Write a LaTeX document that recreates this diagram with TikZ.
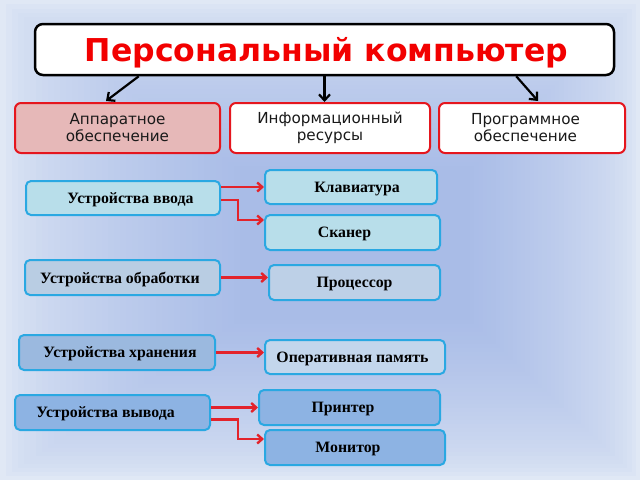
\documentclass[tikz,border=0pt]{standalone}
\usepackage{fontspec}
\newfontfamily\djv{DejaVu Sans}
\newfontfamily\lserif{Liberation Serif}
\usetikzlibrary{arrows.meta}
\definecolor{bgout}{HTML}{E0E8F5}
\definecolor{bgin}{HTML}{A9BCE7}
\definecolor{tred}{HTML}{F20000}
\definecolor{bred}{HTML}{E5161E}
\definecolor{pinkf}{HTML}{E6B8B8}
\definecolor{cyanb}{HTML}{2AA8E2}
\definecolor{cyanf}{HTML}{B8DEEA}
\definecolor{procf}{HTML}{B9CDE3}
\definecolor{cpuf}{HTML}{BDD0E7}
\definecolor{storf}{HTML}{9BB9DF}
\definecolor{ramf}{HTML}{C3D6EC}
\definecolor{outf}{HTML}{8DB3E3}
\definecolor{arrred}{HTML}{E3232B}
\newcommand\txR[2]{\hspace*{#1}#2}
\newcommand\txL[2]{#2\hspace*{#1}}
\begin{document}
\begin{tikzpicture}[x=1pt,y=-1pt,
 titlebox/.style={draw=black, line width=2.5pt, rounded corners=8pt, fill=white, inner sep=0pt, text depth=0pt, font=\djv\bfseries\fontsize{31.5}{34}\selectfont, text=tred},
 topbox/.style={draw=bred, line width=2pt, rounded corners=6pt, inner sep=0pt, align=center, text=black!90, font=\djv\fontsize{15.2}{17}\selectfont, minimum height=50pt},
 devbox/.style={draw=cyanb, line width=2pt, rounded corners=5pt, inner sep=0pt, text depth=0pt, font=\lserif\bfseries\fontsize{15.8}{18}\selectfont, minimum height=35pt},
 ra/.style={draw=arrred, line width=2.4pt, -{Straight Barb[length=5pt,width=9pt]}},
 ba/.style={draw=black, line width=2.2pt, -{Straight Barb[length=6pt,width=11pt]}}
]
\useasboundingbox (0,0) rectangle (640,480);
% background
\foreach \i in {0,...,40}{
  \pgfmathsetmacro\t{\i/40}
  \pgfmathtruncatemacro\p{100*(\t^0.6)}
  \fill[bgin!\p!bgout] ({240*\t},{170*\t}) rectangle ({640-170*\t},{480-160*\t});
}
% title
\node[titlebox, minimum width=579pt, minimum height=51pt] (tt) at (324.5,49.5) {\txR{4pt}{Персональный компьютер}};
% top boxes
\node[topbox, fill=pinkf, minimum width=205pt] (ap) at (117.5,128) {Аппаратное\\обеспечение};
\node[topbox, fill=white, minimum width=200pt] (inf) at (330,128) {Информационный\\ресурсы};
\node[topbox, fill=white, minimum width=186pt] (po) at (532,128) {Программное\hspace*{13pt}\\обеспечение\hspace*{13pt}};
\draw[ba] ([xshift=105pt]tt.south west) -- ([xshift=92pt,yshift=1pt]ap.north west);
\draw[ba] (tt.south) -- (tt.south |- inf.north);
\draw[ba] ([xshift=-99pt]tt.south east) -- ([xshift=100pt,yshift=1pt]po.north west);
% device boxes
\node[devbox, fill=cyanf, minimum width=194pt, minimum height=34pt] (vvod) at (123,198) {\txR{15pt}{Устройства ввода}};
\node[devbox, fill=cyanf, minimum width=172pt, minimum height=34pt] (kl) at (351,187) {\txR{12pt}{Клавиатура}};
\node[devbox, fill=cyanf, minimum width=175pt] (sk) at (352.5,232.5) {\txL{16pt}{Сканер}};
\node[devbox, fill=procf, minimum width=195pt] (obr) at (122.5,277.5) {\txL{5pt}{Устройства обработки}};
\node[devbox, fill=cpuf, minimum width=171pt] (pr) at (354.5,282.5) {Процессор};
\node[devbox, fill=storf, minimum width=196pt] (hr) at (117,352.5) {\txR{6pt}{Устройства хранения}};
\node[devbox, fill=ramf, minimum width=180pt, minimum height=34pt] (op) at (355,357) {\txL{5pt}{Оперативная память}};
\node[devbox, fill=outf, minimum width=195pt] (vy) at (112.5,412.5) {\txL{14pt}{Устройства вывода}};
\node[devbox, fill=outf, minimum width=181pt] (pt) at (349.5,407.5) {\txL{13pt}{Принтер}};
\node[devbox, fill=outf, minimum width=180pt] (mo) at (355,447.5) {\txL{14pt}{Монитор}};
% red connectors
\draw[ra] (kl.west -| vvod.east) -- (kl.west);
\draw[ra] ([yshift=-2pt]vvod.east) -- ++(17,0) |- ([yshift=12.5pt]sk.west);
\draw[ra] (obr.east) -- (obr.east -| pr.west);
\draw[ra] (hr.east) -- (hr.east -| op.west);
\draw[ra] (pt.west -| vy.east) -- (pt.west);
\draw[ra] ([yshift=-7pt]vy.east) -- ++(27,0) |- ([yshift=8.5pt]mo.west);
\end{tikzpicture}
\end{document}
